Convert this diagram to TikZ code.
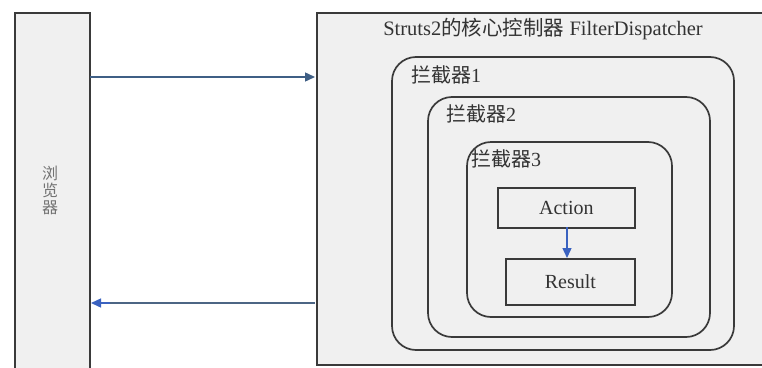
\documentclass[tikz,border=0pt]{standalone}
\usepackage{fontspec}
\setmainfont{Liberation Serif}
\newfontfamily\cjk{Noto Sans CJK SC}
\usetikzlibrary{arrows.meta}
\definecolor{boxfill}{HTML}{F0F0F0}
\definecolor{edge}{HTML}{3A3A3A}
\definecolor{arrowA}{HTML}{3F5F85}
\definecolor{arrowB}{HTML}{3A62C0}
\begin{document}
\begin{tikzpicture}[x=1pt,y=-1pt,
  panel/.style={draw=edge,fill=boxfill,line width=2pt},
  layer/.style={draw=edge,fill=boxfill,line width=1.7pt,rounded corners=24pt},
  inner/.style={draw=edge,fill=boxfill,line width=1.7pt,inner sep=0pt},
  lbl/.style={font=\fontsize{20}{24}\selectfont,anchor=west,inner sep=0pt,text=black!80},
  flow/.style={line width=1.4pt,-{Triangle[length=10pt,width=9pt]}}]
\useasboundingbox (0,0) rectangle (762,367);
\fill[white] (0,0) rectangle (762,367);
% browser
\node[panel,minimum width=75pt,minimum height=362pt,anchor=north west,inner sep=0pt] (browser) at (14,12) {};
\node[font=\cjk\fontsize{16}{17}\selectfont,text=black!55,align=center] (btext) at (50,190) {浏\\览\\器};
% main box
\node[panel,minimum width=460pt,minimum height=352pt,anchor=north west,inner sep=0pt] (main) at (316,12) {};
\node[font=\fontsize{20.5}{24}\selectfont,text=black!80] (title) at (543,29) {Struts2{\cjk 的核心控制器} FilterDispatcher};
% interceptors
\draw[layer] (392,57) rectangle (734,350);
\node[lbl] (i1) at (411,75) {{\cjk 拦截器}1};
\draw[layer] (428,97) rectangle (710,337);
\node[lbl] (i2) at (446,114) {{\cjk 拦截器}2};
\draw[layer] (467,142) rectangle (672,317);
\node[lbl] (i3) at (471,159) {{\cjk 拦截器}3};
% action and result
\node[inner,minimum width=137pt,minimum height=40pt,anchor=north west,font=\fontsize{20}{24}\selectfont,text=black!80] (action) at (497,187) {Action};
\node[inner,minimum width=129pt,minimum height=46pt,anchor=north west,font=\fontsize{20}{24}\selectfont,text=black!80] (result) at (505,258) {Result};
\coordinate (aout) at (567,227);
\coordinate (rin) at (567,258);
\draw[flow,draw=arrowB,fill=arrowB] (aout) -- (rin);
% request / response arrows
\coordinate (req1) at (90,77);
\coordinate (req2) at (315,77);
\draw[flow,draw=arrowA] (req1) -- (req2);
\coordinate (res1) at (315,303);
\coordinate (res2) at (91,303);
\draw[line width=1.4pt,draw=arrowA!80!gray] (res1) -- (110,303);
\draw[flow,draw=arrowB] (110,303) -- (res2);
\end{tikzpicture}
\end{document}
